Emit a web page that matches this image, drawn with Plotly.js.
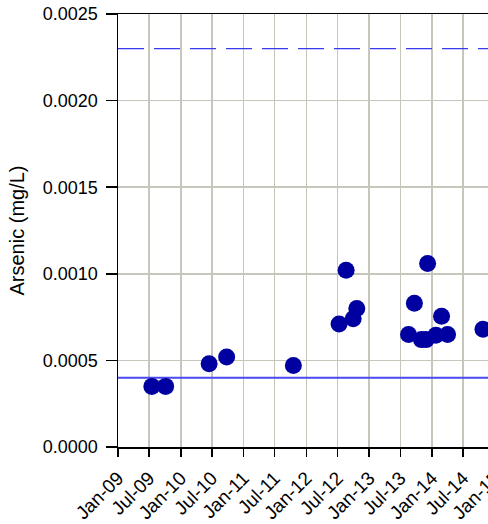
<!DOCTYPE html>
<html>
<head>
<meta charset="utf-8">
<script src="https://cdn.plot.ly/plotly-3.0.1.min.js"></script>
<style>
html,body{margin:0;padding:0;overflow:hidden;background:#fff;width:488px;height:524px;}
#chart{width:506px;height:524px;}
</style>
</head>
<body>
<div id="chart"></div>
<script>
// Sample dates and arsenic concentrations (mg/L)
const sampleDates = [
  "2009-07-17","2009-10-05","2010-06-15","2010-09-25","2011-10-18",
  "2012-07-10","2012-08-20","2012-09-30","2012-10-21",
  "2013-08-18","2013-09-21","2013-11-01","2013-11-28","2013-12-07",
  "2014-01-24","2014-02-26","2014-04-02","2014-10-25"
];
const arsenic = [
  0.00035,0.00035,0.00048,0.00052,0.00047,
  0.00071,0.00102,0.00074,0.00080,
  0.00065,0.00083,0.00062,0.00062,0.00106,
  0.000645,0.000755,0.00065,0.00068
];
// Reference levels
const lineDates = ["2009-01-01","2015-06-01"];
const upperLimit = [0.0023,0.0023];
const lowerLimit = [0.0004,0.0004];
// Axis ticks
const tickDates = ["2009-01-01","2009-07-01","2010-01-01","2010-07-01","2011-01-01","2011-07-01",
  "2012-01-01","2012-07-01","2013-01-01","2013-07-01","2014-01-01","2014-07-01","2015-01-01"];
const tickLabels = ["Jan-09","Jul-09","Jan-10","Jul-10","Jan-11","Jul-11",
  "Jan-12","Jul-12","Jan-13","Jul-13","Jan-14","Jul-14","Jan-15"];
const yTicks = [0,0.0005,0.001,0.0015,0.002,0.0025];
const yTickLabels = ["0.0000","0.0005","0.0010","0.0015","0.0020","0.0025"];

const font = "Liberation Sans, Arial, sans-serif";
const traces = [
  {x: lineDates, y: upperLimit, mode: "lines", line: {color: "#3a3aee", width: 1.3, dash: "26px,10px"}, hoverinfo: "skip"},
  {x: lineDates, y: lowerLimit, mode: "lines", line: {color: "#4a4af0", width: 2}, hoverinfo: "skip"},
  {x: sampleDates, y: arsenic, mode: "markers", marker: {color: "#0000a0", size: 17}}
];
const layout = {
  width: 506, height: 524,
  margin: {l: 118, r: 6, t: 14, b: 77},
  showlegend: false,
  paper_bgcolor: "#fff", plot_bgcolor: "#fff",
  font: {family: font, size: 18, color: "#000"},
  xaxis: {
    type: "date",
    range: ["2009-01-01","2015-02-01"],
    tickvals: tickDates, ticktext: tickLabels,
    tickangle: -45,
    ticks: "outside", ticklen: 8, tickwidth: 1.5, tickcolor: "#000",
    ticklabelstandoff: 3,
    showgrid: true, gridcolor: "#c6c6bc", gridwidth: 1.5,
    showline: true, linecolor: "#000", linewidth: 1.5, mirror: true,
    zeroline: false,
    tickfont: {family: font, size: 19}
  },
  yaxis: {
    range: [0, 0.0025],
    tickvals: yTicks, ticktext: yTickLabels,
    ticks: "outside", ticklen: 11, tickwidth: 1.5, tickcolor: "#000",
    ticklabelstandoff: 4,
    showgrid: true, gridcolor: "#c6c6bc", gridwidth: 1.5,
    showline: true, linecolor: "#000", linewidth: 1.5, mirror: true,
    zeroline: false,
    title: {text: "Arsenic (mg/L)", font: {family: font, size: 20}, standoff: 13},
    tickfont: {family: font, size: 18}
  }
};
Plotly.newPlot("chart", traces, layout, {displayModeBar: false, staticPlot: true});
</script>
</body>
</html>
